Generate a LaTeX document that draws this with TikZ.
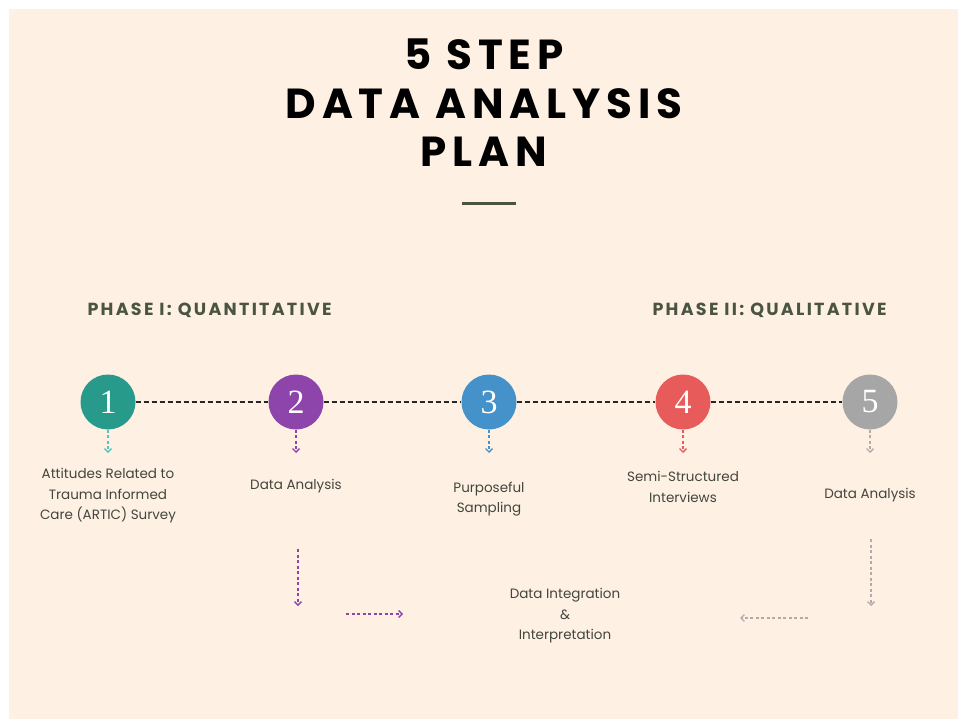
\documentclass[tikz,border=0pt]{standalone}
\usepackage{fontspec}
\setmainfont{Poppins}
\newfontfamily\numfont{Liberation Serif}
\newfontfamily\headfont[LetterSpace=14]{Poppins}
\newfontfamily\phasefont[LetterSpace=13]{Poppins}
\usetikzlibrary{positioning,arrows.meta}

\definecolor{cream}{HTML}{FEF1E3}
\definecolor{olive}{HTML}{4B5443}
\definecolor{labelgray}{HTML}{42463D}
\definecolor{stepteal}{HTML}{279A8B}
\definecolor{steppurple}{HTML}{8E45AB}
\definecolor{stepblue}{HTML}{4592CB}
\definecolor{stepred}{HTML}{E85B5B}
\definecolor{stepgray}{HTML}{A6A6A6}
\definecolor{tealarrow}{HTML}{55C6BC}
\definecolor{grayarrow}{HTML}{B3ABAB}

\begin{document}
\begin{tikzpicture}[
    x=1pt, y=-1pt,
    every node/.style={font=\fontsize{13.5}{20.5}\selectfont, text=labelgray, align=center},
    stepdot/.style={circle, minimum size=55pt, inner sep=0pt, text=white,
        font=\numfont\fontsize{34}{34}\selectfont},
    phase/.style={font=\phasefont\bfseries\fontsize{17.5}{17.5}\selectfont, text=olive, anchor=west},
    timeline/.style={black!85, line width=1.6pt, dash pattern=on 5pt off 3pt},
    drop/.style={line width=1.3pt, dash pattern=on 3pt off 2.5pt,
        -{Straight Barb[length=3.5pt,width=7pt]}}
]

% Page
\useasboundingbox (0,0) rectangle (958,719);
\fill[white] (0,0) rectangle (958,719);
\fill[cream] (9,9) rectangle (958,719);

% Title
\node[font=\headfont\bfseries\fontsize{42}{48.5}\selectfont, text=black] (title) at (484,103)
    {5 STEP\\DATA ANALYSIS\\PLAN};
\draw[olive, line width=3pt] (462,204) -- (516,204);

% Phase headings
\node[phase] (ph1) at (84,310) {PHASE I: QUANTITATIVE};
\node[phase] (ph2) at (649,310) {PHASE II: QUALITATIVE};

% === Steps ===
\node[stepdot, fill=stepteal]   (s1) at (108,402) {1};
\node[stepdot, fill=steppurple] (s2) at (296,402) {2};
\node[stepdot, fill=stepblue]   (s3) at (489,402) {3};
\node[stepdot, fill=stepred]    (s4) at (683,402) {4};
\node[stepdot, fill=stepgray]   (s5) at (870,402) {5};

% Timeline between the steps
\draw[timeline] (s1) -- (s2);
\draw[timeline] (s2) -- (s3);
\draw[timeline] (s3) -- (s4);
\draw[timeline] (s4) -- (s5);

% Short drops under each step
\coordinate (d1) at (108,453);
\coordinate (d2) at (296,453);
\coordinate (d3) at (489,453);
\coordinate (d4) at (683,453);
\coordinate (d5) at (870,453);
\draw[drop, tealarrow]  (s1) -- (d1);
\draw[drop, steppurple] (s2) -- (d2);
\draw[drop, stepblue]   (s3) -- (d3);
\draw[drop, stepred]    (s4) -- (d4);
\draw[drop, grayarrow]  (s5) -- (d5);

% Step labels
\node (l1) at (108,496) {Attitudes Related to\\Trauma Informed\\Care (ARTIC) Survey};
\node (l2) at (296,486) {Data Analysis};
\node (l3) at (489,499) {Purposeful\\Sampling};
\node (l4) at (683,487) {Semi-Structured\\Interviews};
\node (l5) at (870,495) {Data Analysis};

% === Integration ===
\node (mix) at (565,616) {Data Integration\\\&\\Interpretation};

% Phase I flow
\coordinate (q1) at (298,549);
\coordinate (q2) at (298,606);
\coordinate (q3) at (346,614);
\coordinate (q4) at (403,614);
\draw[drop, steppurple] (q1) -- (q2);
\draw[drop, steppurple] (q3) -- (q4);

% Phase II flow
\coordinate (r1) at (871,539);
\coordinate (r2) at (871,606);
\coordinate (r3) at (808,618);
\coordinate (r4) at (740,618);
\draw[drop, grayarrow] (r1) -- (r2);
\draw[drop, grayarrow] (r3) -- (r4);

\end{tikzpicture}
\end{document}
